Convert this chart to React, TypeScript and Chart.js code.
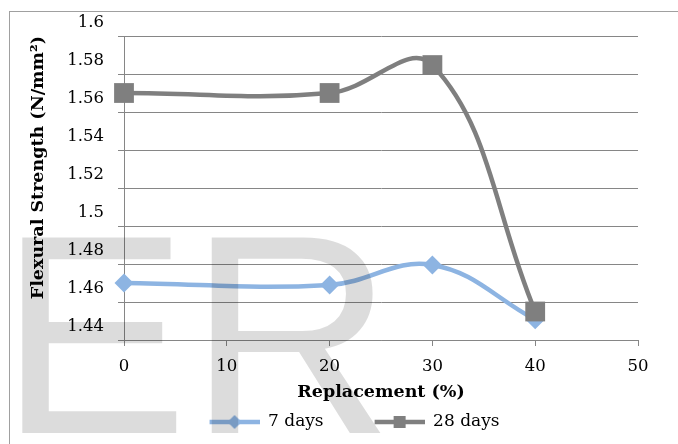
import React, { useEffect, useRef } from "react";
import { Chart, registerables } from "chart.js";

Chart.register(...registerables);

// ---- data ----
const replacement = [0, 20, 30, 40];
const strength7 = [1.47, 1.469, 1.4795, 1.4507];
const strength28 = [1.57, 1.57, 1.5847, 1.455];
const seriesNames = ["7 days", "28 days"];
const seriesColors = ["#8DB4E2", "#7F7F7F"];
const xTitle = "Replacement (%)";
const yTitle = "Flexural Strength (N/mm²)";
const xRange = [0, 50, 10];
const yRange = [1.44, 1.6, 0.02];
const watermark = "ER";

const FONT = "'DejaVu Serif', serif";
const GRID = "#868686";

function legendImage(color: string, style: "diamond" | "square"): HTMLCanvasElement {
  const c = document.createElement("canvas");
  c.width = 91;
  c.height = 20;
  const ctx = c.getContext("2d")!;
  ctx.strokeStyle = color;
  ctx.fillStyle = color;
  ctx.lineWidth = 4.5;
  ctx.beginPath();
  ctx.moveTo(41, 10);
  ctx.lineTo(91, 10);
  ctx.stroke();
  const cx = 66;
  if (style === "diamond") {
    ctx.beginPath();
    ctx.moveTo(cx, 3);
    ctx.lineTo(cx + 7, 10);
    ctx.lineTo(cx, 17);
    ctx.lineTo(cx - 7, 10);
    ctx.closePath();
    ctx.fill();
  } else {
    ctx.fillRect(cx - 6, 4, 12, 12);
  }
  return c;
}

const decorPlugin = {
  id: "decor",
  beforeDraw(chart: any) {
    const ctx = chart.ctx;
    ctx.save();
    ctx.fillStyle = "#ffffff";
    ctx.fillRect(0, 0, chart.width, chart.height);
    ctx.strokeStyle = "#a0a0a0";
    ctx.lineWidth = 1;
    ctx.strokeRect(9.5, 11.5, chart.width + 40, chart.height + 40);
    ctx.restore();
  },
  afterDraw(chart: any) {
    const ctx = chart.ctx;
    ctx.save();
    ctx.font = "284px 'Liberation Sans', Arial, sans-serif";
    ctx.fillStyle = "rgba(0,0,0,0.137)";
    ctx.textBaseline = "alphabetic";
    ctx.textAlign = "left";
    ctx.fillText(watermark, -1, 433);
    ctx.restore();
  },
};

export default function App() {
  const ref = useRef<HTMLCanvasElement | null>(null);

  useEffect(() => {
    if (!ref.current) return;
    const img7 = legendImage(seriesColors[0], "diamond");
    const img28 = legendImage(seriesColors[1], "square");

    const chart = new Chart(ref.current, {
      type: "line",
      data: {
        datasets: [
          {
            label: seriesNames[0],
            data: replacement.map((x, i) => ({ x, y: strength7[i] })),
            borderColor: seriesColors[0],
            backgroundColor: seriesColors[0],
            borderWidth: 4.5,
            pointStyle: "rectRot",
            pointRadius: 9.5,
            pointBorderWidth: 0,
            pointBackgroundColor: seriesColors[0],
            tension: 0.4,
            clip: false as any,
            order: 1,
          },
          {
            label: seriesNames[1],
            data: replacement.map((x, i) => ({ x, y: strength28[i] })),
            borderColor: seriesColors[1],
            backgroundColor: seriesColors[1],
            borderWidth: 4.5,
            pointStyle: "rect",
            pointRadius: 14,
            pointBorderWidth: 0,
            pointBackgroundColor: seriesColors[1],
            tension: 0.4,
            clip: false as any,
            order: 0,
          },
        ],
      },
      options: {
        animation: false,
        responsive: false,
        events: [],
        layout: { padding: { left: 30, right: 40, top: 36, bottom: 3.5 } },
        plugins: {
          tooltip: { enabled: false },
          legend: {
            position: "bottom",
            labels: {
              usePointStyle: true,
              pointStyleWidth: 91,
              padding: 10,
              color: "#000",
              font: { family: FONT, size: 17 },
              generateLabels: () => [
                {
                  text: seriesNames[0],
                  pointStyle: img7 as any,
                  fillStyle: seriesColors[0],
                  strokeStyle: seriesColors[0],
                  lineWidth: 0,
                  hidden: false,
                  datasetIndex: 0,
                  fontColor: "#000",
                },
                {
                  text: seriesNames[1],
                  pointStyle: img28 as any,
                  fillStyle: seriesColors[1],
                  strokeStyle: seriesColors[1],
                  lineWidth: 0,
                  hidden: false,
                  datasetIndex: 1,
                  fontColor: "#000",
                },
              ],
            },
          },
        },
        scales: {
          x: {
            type: "linear",
            min: xRange[0],
            max: xRange[1],
            ticks: {
              stepSize: xRange[2],
              padding: 11,
              color: "#000",
              font: { family: FONT, size: 16.5 },
            },
            grid: { drawOnChartArea: false, tickLength: 6, color: GRID },
            border: { color: GRID, width: 1 },
            title: {
              display: true,
              text: xTitle,
              color: "#000",
              font: { family: FONT, size: 17.5, weight: "bold" },
              padding: { top: 0, bottom: 1 },
            },
            afterFit: (s: any) => {
              s.height = 63.5;
            },
          },
          y: {
            type: "linear",
            min: yRange[0],
            max: yRange[1],
            ticks: {
              stepSize: yRange[2],
              padding: 14,
              labelOffset: -13,
              color: "#000",
              font: { family: FONT, size: 16.5 },
              callback: (v: any) => String(Number(Number(v).toFixed(2))),
            },
            grid: { tickLength: 6, color: GRID, lineWidth: 1 },
            border: { color: GRID, width: 1 },
            title: {
              display: true,
              text: yTitle,
              align: "end",
              color: "#000",
              font: { family: FONT, size: 17.5, weight: "bold" },
              padding: { top: -2.5, bottom: 0 },
            },
            afterFit: (s: any) => {
              s.width = 94;
            },
          },
        },
      } as any,
      plugins: [decorPlugin],
    });
    return () => chart.destroy();
  }, []);

  return (
    <div style={{ position: "absolute", left: 0, top: 0, width: 678, height: 444 }}>
      <canvas ref={ref} width={678} height={444} style={{ display: "block" }} />
    </div>
  );
}
